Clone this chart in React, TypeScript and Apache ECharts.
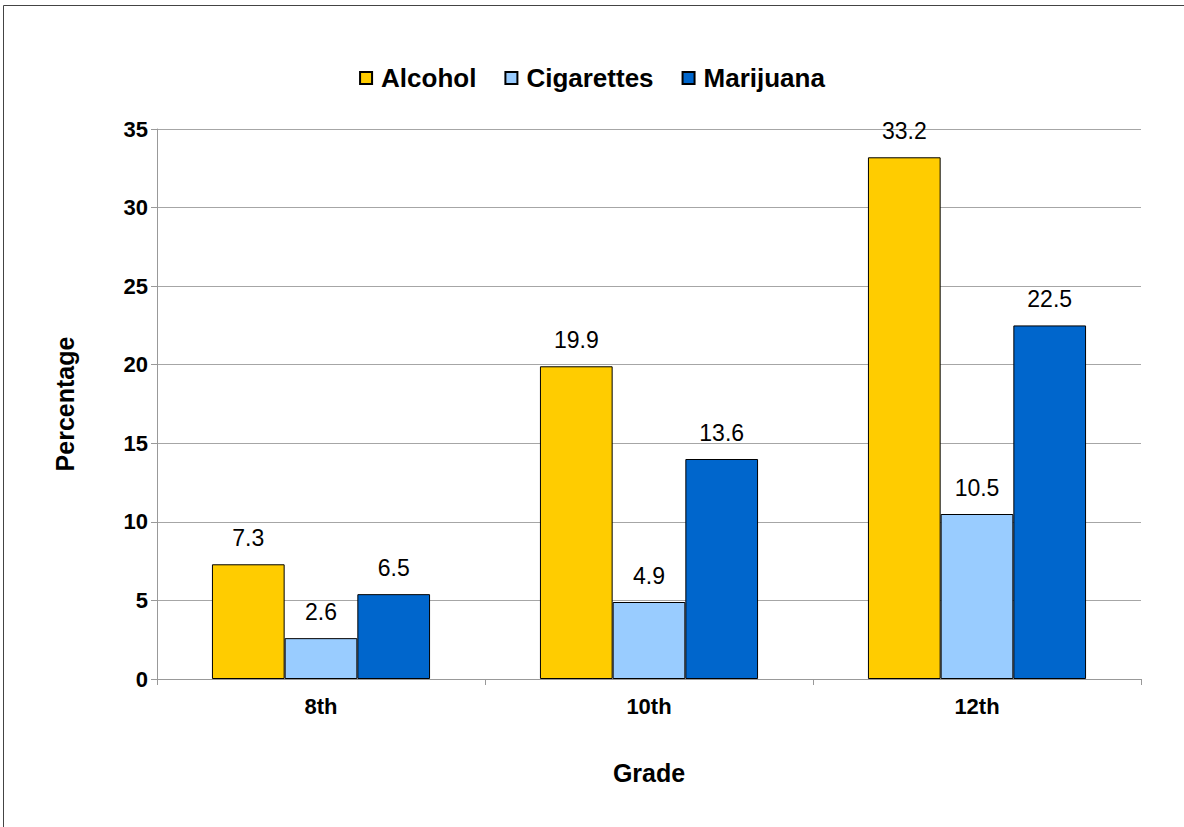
import React, { useEffect, useRef } from "react";
import * as echarts from "echarts";

const categories = ["8th", "10th", "12th"];
const seriesNames = ["Alcohol", "Cigarettes", "Marijuana"];
const alcohol = [7.3, 19.9, 33.2];
const cigarettes = [2.6, 4.9, 10.5];
const marijuana = [5.4, 14.0, 22.5];
const alcoholLabels = ["7.3", "19.9", "33.2"];
const cigarettesLabels = ["2.6", "4.9", "10.5"];
const marijuanaLabels = ["6.5", "13.6", "22.5"];
const colors = ["#FFCC00", "#99CCFF", "#0066CC"];

export default function App() {
  const ref = useRef<HTMLDivElement>(null);
  useEffect(() => {
    const chart = echarts.init(ref.current!, null, { renderer: "svg" });
    const values = [alcohol, cigarettes, marijuana];
    const labels = [alcoholLabels, cigarettesLabels, marijuanaLabels];
    chart.setOption({
      animation: false,
      backgroundColor: "#ffffff",
      textStyle: { fontFamily: "Arial, Liberation Sans, sans-serif" },
      graphic: [
        {
          type: "rect",
          shape: { x: 3.5, y: 5.5, width: 1300, height: 900 },
          style: { fill: "none", stroke: "#444444", lineWidth: 1 },
          silent: true,
        },
      ],
      legend: {
        top: 60,
        left: "center",
        icon: "rect",
        itemWidth: 12,
        itemHeight: 12,
        itemGap: 28,
        textStyle: {
          fontSize: 26,
          fontWeight: "bold",
          color: "#000",
          fontFamily: "Arial, Liberation Sans, sans-serif",
          padding: [0, 0, 0, 4],
        },
        data: seriesNames,
      },
      grid: { left: 157, top: 129, right: 43, bottom: 148, containLabel: false },
      xAxis: {
        type: "category",
        data: categories,
        name: "Grade",
        nameLocation: "middle",
        nameGap: 81,
        nameTextStyle: { fontSize: 25, fontWeight: "bold", color: "#000" },
        axisLine: { lineStyle: { color: "#999999" } },
        axisTick: { show: true, length: 6, lineStyle: { color: "#999999" } },
        axisLabel: { fontSize: 22, fontWeight: "bold", color: "#000", margin: 16 },
      },
      yAxis: {
        type: "value",
        min: 0,
        max: 35,
        interval: 5,
        name: "Percentage",
        nameLocation: "middle",
        nameGap: 80,
        nameTextStyle: { fontSize: 25, fontWeight: "bold", color: "#000" },
        axisLine: { show: true, lineStyle: { color: "#999999" } },
        axisTick: { show: true, length: 6, lineStyle: { color: "#999999" } },
        axisLabel: { fontSize: 22, fontWeight: "bold", color: "#000", margin: 9 },
        splitLine: { lineStyle: { color: "#a6a6a6" } },
      },
      series: seriesNames.map((name, i) => ({
        name,
        type: "bar",
        data: values[i],
        barGap: "0%",
        barCategoryGap: "33.5%",
        itemStyle: { color: colors[i], borderColor: "#000", borderWidth: 1 },
        label: {
          show: true,
          position: "top",
          distance: 15,
          fontSize: 23,
          color: "#000",
          formatter: (p: any) => labels[i][p.dataIndex],
        },
      })),
    });
    return () => chart.dispose();
  }, []);
  return (
    <div
      ref={ref}
      style={{ position: "fixed", left: 0, top: 0, width: 1184, height: 827 }}
    />
  );
}
